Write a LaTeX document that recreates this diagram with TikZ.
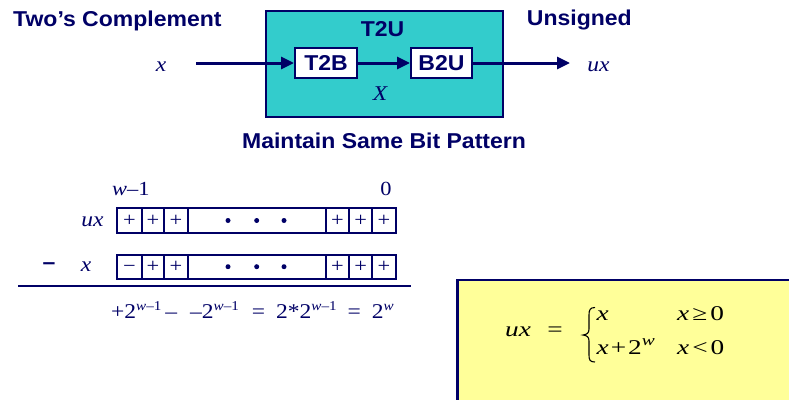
\documentclass[tikz,border=0pt]{standalone}
\usepackage{fontspec}
\setmainfont{Liberation Serif}[FakeStretch=1.12]
\setsansfont{Liberation Sans}[FakeStretch=1.07]
\newfontfamily\eqfont{Liberation Serif}[FakeStretch=1.3]
\usetikzlibrary{arrows.meta}
\definecolor{navy}{HTML}{000066}
\definecolor{tealfill}{HTML}{33CCCC}
\definecolor{lyellow}{HTML}{FFFF99}
\newcommand{\mysup}[1]{\raisebox{7.5pt}{\fontsize{13.5}{14}\selectfont #1}}
\newcommand{\eqsup}[1]{\raisebox{9pt}{\fontsize{15}{15}\selectfont #1}}
\newcommand{\cellminus}{\smash{\raisebox{-0.27em}{−}}}
\begin{document}
\begin{tikzpicture}[x=1pt,y=-1pt,
  hdr/.style={font=\fontsize{21.5}{26}\selectfont\sffamily\bfseries, text=navy, inner sep=0},
  serifit/.style={font=\fontsize{21}{26}\selectfont\itshape, text=navy, inner sep=0},
  serifup/.style={font=\fontsize{20}{24}\selectfont, text=navy, inner sep=0},
  eqtext/.style={font=\fontsize{21}{24}\selectfont\eqfont, text=black, inner sep=0},
  whitebox/.style={draw=navy, line width=2, fill=white, minimum height=30, inner sep=0},
  cell/.style={draw=navy, line width=2, minimum height=24.4, inner sep=0,
    font=\fontsize{20}{20}\selectfont, text=navy},
  flow/.style={draw=navy, line width=3, -{Triangle[length=13pt,width=12pt]}}]
\useasboundingbox (0,0) rectangle (789,399);

% headings
\node[hdr, anchor=base west] (tc) at (13,26.7) {Two’s Complement};
\node[hdr, anchor=base west] (uns) at (526.7,25) {Unsigned};

% T2U box
\node[draw=navy, line width=2.2, fill=tealfill, minimum width=237, minimum height=106.5,
  anchor=north west, inner sep=0] (t2u) at (265,9.5) {};
\node[hdr, anchor=base] (t2ulab) at (382.5,36.7) {T2U};
\node[whitebox, minimum width=62] (t2b) at (326,63) {};
\node[hdr, anchor=base] (t2blab) at (326,70) {T2B};
\node[whitebox, minimum width=61] (b2u) at (441.5,63) {};
\node[hdr, anchor=base] (b2ulab) at (441.5,70) {B2U};
\node[serifit, anchor=base] (bigx) at (380,100) {X};

\coordinate (in) at (196,63);
\coordinate (out) at (570,63);
\draw[flow] (in) -- (t2b.west);
\draw[flow] (t2b.east) -- (b2u.west);
\draw[flow] (b2u.east) -- (out);

\node[serifit, anchor=base] (xin) at (161,71) {x};
\node[serifit, anchor=base] (uxout) at (598.5,71) {ux};

\node[hdr, anchor=base] (msbp) at (384,148.3) {Maintain Same Bit Pattern};

% bit pattern
\node[serifup, anchor=base west] (wm1) at (112,195.7) {\textit{w}–1};
\node[serifup, anchor=base] (zero) at (386,195.7) {0};
\node[serifit, anchor=base] (uxl) at (92.5,226.7) {ux};
\node[serifit, anchor=base] (xl) at (86,271.7) {x};
\node[hdr] (minus) at (49,266.5) {–};

\foreach \cx/\w/\s [count=\i] in {129.5/24.4/+, 152.85/22.3/+, 175.85/23.7/+, 256.7/138/{},
    337.5/23.6/+, 360.8/23/+, 384/23.4/+} {
  \node[cell, minimum width=\w] (u\i) at (\cx,220.5) {\s};
}
\foreach \cx/\w/\s [count=\i] in {129.5/24.4/\cellminus, 152.85/22.3/+, 175.85/23.7/+, 256.7/138/{},
    337.5/23.6/+, 360.8/23/+, 384/23.4/+} {
  \node[cell, minimum width=\w] (v\i) at (\cx,266.7) {\s};
}
\foreach \dx in {228,256.7,284} {
  \fill[navy] (\dx,220.5) circle (2.5);
  \fill[navy] (\dx,266.7) circle (2.5);
}
\coordinate (rl) at (18,286);
\coordinate (rr) at (411,286);
\draw[navy, line width=2.7] (rl) -- (rr);

\node[serifup, font=\fontsize{21}{24}\selectfont, anchor=base west] (expr) at (111,318.3)
  {+2\mysup{\textit{w}–1}\hspace{4pt}–\hspace{13pt}–2\mysup{\textit{w}–1}\hspace{13pt}=\hspace{11pt}2*2\mysup{\textit{w}–1}\hspace{11pt}=\hspace{11pt}2\mysup{\textit{w}}};

% yellow box
\begin{scope}
\clip (0,0) rectangle (789,399);
\node[draw=navy, line width=2.5, fill=lyellow, minimum width=360, minimum height=140,
  anchor=north west, inner sep=0] (ybox) at (456,278.7) {};
\end{scope}
\node[eqtext, anchor=base west] (equx) at (505,336.7) {\textit{ux}};
\node[eqtext, anchor=base] (eqeq) at (555,336.7) {=};
\draw[black, line width=1.1] (595,307.5) .. controls (590,307.5) and (589,310) .. (589,315)
  -- (589,329) .. controls (589,333) and (587,334.5) .. (583,335)
  .. controls (587,335.5) and (589,337) .. (589,341) -- (589,355)
  .. controls (589,360) and (590,362) .. (595,362);
\node[eqtext, anchor=base west] (r1a) at (596.5,320.5) {\textit{x}};
\node[eqtext, anchor=base west] (r1b) at (677,320.5) {\textit{x}\hspace{3pt}≥\hspace{3pt}0};
\node[eqtext, anchor=base west] (r2a) at (596.5,354) {\textit{x}\hspace{2pt}+\hspace{2pt}2\eqsup{\textit{w}}};
\node[eqtext, anchor=base west] (r2b) at (677,354) {\textit{x}\hspace{3pt}<\hspace{3pt}0};
\end{tikzpicture}
\end{document}
